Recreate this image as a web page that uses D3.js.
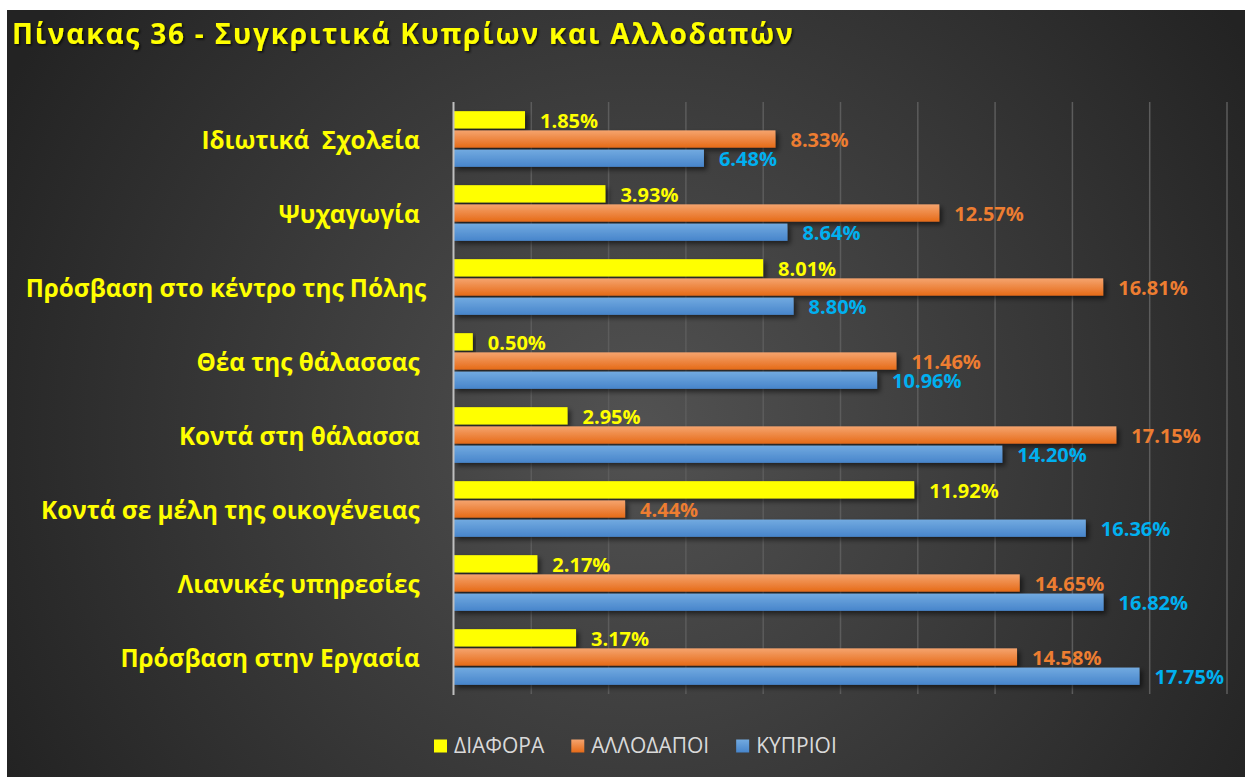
<!DOCTYPE html>
<html><head><meta charset="utf-8">
<script src="https://cdn.jsdelivr.net/npm/d3@7"></script>
<style>
html,body{margin:0;padding:0;background:#fff;}
svg{display:block;}
text{font-family:"Open Sans","Noto Sans",sans-serif;}
</style>
</head><body>
<svg id="chart" width="1245" height="777"></svg>
<script>
// ---- data ----
const title = "Πίνακας 36 - Συγκριτικά Κυπρίων και Αλλοδαπών";
const categories = [
  "Ιδιωτικά  Σχολεία ",
  "Ψυχαγωγία ",
  "Πρόσβαση στο κέντρο της Πόλης",
  "Θέα της θάλασσας ",
  "Κοντά στη θάλασσα ",
  "Κοντά σε μέλη της οικογένειας ",
  "Λιανικές υπηρεσίες ",
  "Πρόσβαση στην Εργασία "
];
const seriesNames = ["ΔΙΑΦΟΡΑ", "ΑΛΛΟΔΑΠΟΙ", "ΚΥΠΡΙΟΙ"];
const diafora   = [1.85, 3.93, 8.01, 0.50, 2.95, 11.92, 2.17, 3.17];
const allodapoi = [8.33, 12.57, 16.81, 11.46, 17.15, 4.44, 14.65, 14.58];
const kyprioi   = [6.48, 8.64, 8.80, 10.96, 14.20, 16.36, 16.82, 17.75];
const xTicks = [0, 2, 4, 6, 8, 10, 12, 14, 16, 18, 20];

const seriesValues = [diafora, allodapoi, kyprioi];
const barFill = ["#FFFF00", "url(#gOrange)", "url(#gBlue)"];
const legendFill = ["#FFFF00", "url(#gOrange)", "url(#gBlue)"];
const labelColor = ["#FFFF00", "#ED7D31", "#00B0F0"];

// ---- svg ----
const svg = d3.select("#chart");
const defs = svg.append("defs");

const bg = defs.append("radialGradient").attr("id", "bgGrad")
  .attr("gradientUnits", "userSpaceOnUse")
  .attr("cx", 640).attr("cy", 430).attr("r", 720);
bg.append("stop").attr("offset", "0%").attr("stop-color", "#525252");
bg.append("stop").attr("offset", "100%").attr("stop-color", "#232323");

const go = defs.append("linearGradient").attr("id", "gOrange").attr("x1", 0).attr("y1", 0).attr("x2", 0).attr("y2", 1);
go.append("stop").attr("offset", "0%").attr("stop-color", "#F5A46E");
go.append("stop").attr("offset", "100%").attr("stop-color", "#E66B18");
const gb = defs.append("linearGradient").attr("id", "gBlue").attr("x1", 0).attr("y1", 0).attr("x2", 0).attr("y2", 1);
gb.append("stop").attr("offset", "0%").attr("stop-color", "#72AAE0");
gb.append("stop").attr("offset", "100%").attr("stop-color", "#4785CB");

const sh = defs.append("filter").attr("id", "shadow").attr("x", "-5%").attr("y", "-30%").attr("width", "120%").attr("height", "180%");
sh.append("feDropShadow").attr("dx", 3).attr("dy", 3).attr("stdDeviation", 2.4)
  .attr("flood-color", "#000").attr("flood-opacity", 0.55);
const tsh = defs.append("filter").attr("id", "tshadow").attr("x", "-5%").attr("y", "-30%").attr("width", "110%").attr("height", "170%");
tsh.append("feDropShadow").attr("dx", 1.5).attr("dy", 1.5).attr("stdDeviation", 1.2)
  .attr("flood-color", "#000").attr("flood-opacity", 0.7);

// background panel
svg.append("rect").attr("x", 7).attr("y", 10).attr("width", 1238).attr("height", 767).attr("fill", "url(#bgGrad)");

// title
svg.append("text").attr("x", 12).attr("y", 44)
  .attr("fill", "#FFFF00").attr("font-size", 28).attr("font-weight", 700)
  .style("letter-spacing", "1.8px").attr("filter", "url(#tshadow)")
  .text(title);

// scales
const x = d3.scaleLinear().domain([0, 20]).range([453.5, 1226.5]);
const y = d3.scaleBand().domain(categories).range([102, 694]).padding(0);
const ys = d3.scaleBand().domain(seriesNames).range([0, y.bandwidth()]).paddingInner(0.1).paddingOuter(0.477);

// gridlines
const grid = svg.append("g").attr("transform", "translate(0,102)")
  .call(d3.axisBottom(x).tickValues(xTicks.slice(1)).tickSize(694 - 102).tickFormat(""));
grid.select(".domain").remove();
grid.selectAll(".tick line").attr("stroke", "#5c5c5c").attr("stroke-width", 1.5);

// bars
const groups = svg.append("g").selectAll("g").data(categories).join("g")
  .attr("transform", d => `translate(0,${y(d)})`);

seriesNames.forEach((s, si) => {
  groups.append("rect")
    .attr("x", x(0))
    .attr("y", ys(s))
    .attr("width", (d, i) => x(seriesValues[si][i]) - x(0))
    .attr("height", ys.bandwidth())
    .attr("fill", barFill[si])
    .attr("filter", "url(#shadow)");
});

// y axis line
const yAxis = svg.append("g").attr("transform", `translate(${x(0)},0)`)
  .call(d3.axisLeft(y).tickSize(0).tickFormat(""));
yAxis.select(".domain").attr("stroke", "#BFBFBF").attr("stroke-width", 2)
  .attr("d", `M0,102V695`);

// data labels
const fmt = d3.format(".2f");
seriesNames.forEach((s, si) => {
  groups.append("text")
    .attr("x", (d, i) => x(seriesValues[si][i]) + 15)
    .attr("y", ys(s) + ys.bandwidth() / 2 + 1)
    .attr("dy", "0.35em")
    .attr("fill", labelColor[si])
    .attr("font-size", 20).attr("font-weight", 700)
    .text((d, i) => fmt(seriesValues[si][i]) + "%");
});

// category labels
svg.append("g").selectAll("text").data(categories).join("text")
  .attr("x", 426)
  .attr("y", d => y(d) + y.bandwidth() / 2 + 1)
  .attr("dy", "0.35em")
  .attr("text-anchor", "end")
  .style("white-space", "pre")
  .attr("fill", "#FFFF00").attr("font-size", 24.3).attr("font-weight", 700)
  .text(d => d);

// legend
const legend = svg.append("g").attr("transform", "translate(434,746)");
let lx = 0;
seriesNames.forEach((s, si) => {
  const g = legend.append("g").attr("transform", `translate(${lx},0)`);
  g.append("rect").attr("x", 0).attr("y", -6.5).attr("width", 13).attr("height", 13).attr("fill", legendFill[si]);
  const t = g.append("text").attr("x", 20).attr("y", 0).attr("dy", "0.35em")
    .attr("fill", "#D9D9D9").attr("font-size", 21).text(s);
  lx += 20 + t.node().getComputedTextLength() + 27;
});
</script>
</body></html>
